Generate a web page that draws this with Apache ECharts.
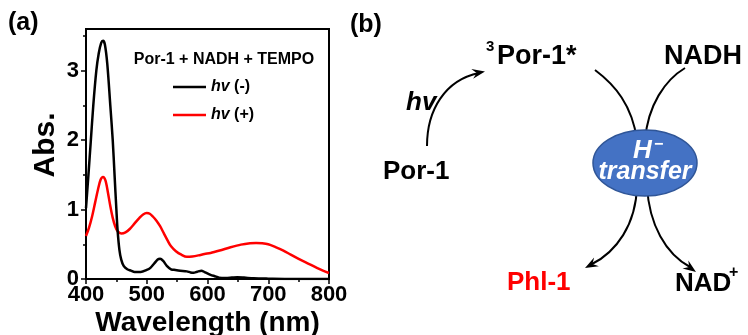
<!DOCTYPE html>
<html>
<head>
<meta charset="utf-8">
<script src="https://cdn.jsdelivr.net/npm/echarts@6/dist/echarts.min.js"></script>
<style>
  html, body { margin: 0; padding: 0; background: #fff; }
  #chart { width: 748px; height: 335px; }
</style>
</head>
<body>
<div id="chart"></div>
<script>
// Panel (a): UV-vis spectra of Por-1 + NADH + TEMPO, with and without light
const wlDark = [400, 404, 408, 412, 417, 421, 425, 428, 431, 435, 440, 444, 447, 450, 452, 455, 458, 462, 468,
  474, 480, 490, 500, 506, 512, 518, 522, 527, 533, 540, 547, 555, 566, 572, 577, 583, 590, 595, 605, 612,
  619, 630, 640, 649, 660, 676, 700, 740, 800];
const absDark = [1.02, 1.5, 2.0, 2.5, 3.0, 3.25, 3.4, 3.43, 3.38, 3.1, 2.5, 2.0, 1.5, 1.0, 0.7, 0.42, 0.28, 0.19, 0.14,
  0.12, 0.1, 0.1, 0.13, 0.16, 0.22, 0.28, 0.29, 0.26, 0.19, 0.14, 0.13, 0.12, 0.11, 0.095, 0.09, 0.105, 0.12, 0.1, 0.06, 0.04,
  0.02, 0.015, 0.02, 0.025, 0.02, 0.01, 0.005, 0, 0];

const wlLight = [400, 405, 410, 415, 420, 424, 428, 432, 436, 440, 444, 448, 452, 458, 465, 472, 480, 488, 494,
  500, 505, 510, 516, 522, 528, 534, 540, 548, 557, 566, 575, 585, 595, 605, 620, 638, 655, 670, 680, 690,
  700, 712, 725, 737, 750, 764, 780, 790, 800];
const absLight = [0.62, 0.74, 0.9, 1.1, 1.3, 1.43, 1.47, 1.42, 1.25, 1.05, 0.88, 0.76, 0.69, 0.655, 0.67, 0.72, 0.8, 0.88, 0.93,
  0.95, 0.94, 0.9, 0.84, 0.76, 0.66, 0.56, 0.47, 0.4, 0.35, 0.32, 0.325, 0.34, 0.36, 0.375, 0.41, 0.457, 0.495, 0.515, 0.52, 0.515,
  0.5, 0.46, 0.41, 0.35, 0.29, 0.23, 0.16, 0.12, 0.087];

const seriesNames = ['hv (-)', 'hv (+)'];
const seriesColors = ['#000000', '#ff0000'];
const xTicks = [400, 500, 600, 700, 800];
const yTicks = [0, 1, 2, 3];

const FONT = '"Liberation Sans", Arial, sans-serif';

const pair = (xs, ys) => xs.map((x, i) => [x, ys[i]]);

// arrowhead polygon pointing from "from" towards "tip"
function arrowHead(tip, from, len, half) {
  const dx = tip[0] - from[0], dy = tip[1] - from[1];
  const n = Math.hypot(dx, dy);
  const ux = dx / n, uy = dy / n;
  const px = -uy, py = ux;
  return {
    type: 'polygon',
    shape: {
      points: [
        tip,
        [tip[0] - ux * len + px * half, tip[1] - uy * len + py * half],
        [tip[0] - ux * len * 0.65, tip[1] - uy * len * 0.65],
        [tip[0] - ux * len - px * half, tip[1] - uy * len - py * half]
      ]
    },
    style: { fill: '#000' },
    z: 10
  };
}

function curve(x1, y1, cx1, cy1, cx2, cy2, x2, y2) {
  return {
    type: 'bezierCurve',
    shape: { x1, y1, cpx1: cx1, cpy1: cy1, cpx2: cx2, cpy2: cy2, x2, y2 },
    style: { stroke: '#000', lineWidth: 2, fill: null },
    z: 5
  };
}

function label(text, x, y, size, opts) {
  return {
    type: 'text',
    x, y,
    style: Object.assign({
      text,
      font: 'bold ' + size + 'px ' + FONT,
      fill: '#000',
      textAlign: 'left',
      textVerticalAlign: 'middle'
    }, opts || {}),
    z: 20
  };
}

const graphics = [
  label('(a)', 8, 23, 25),
  label('Por-1 + NADH + TEMPO', 224, 60, 16, { textAlign: 'center' }),
  label('(b)', 350, 25, 25),

  // hv excitation arrow
  curve(427, 146, 427, 110, 445, 80, 479, 73),
  arrowHead([485, 71.5], [466, 75], 13, 5),
  label('hv', 406, 103, 26, { font: 'italic bold 26px ' + FONT }),
  label('Por-1', 383, 172, 26),
  label('3', 486, 47, 15),
  label('Por-1*', 497, 57, 27),
  label('NADH', 664, 57, 27),

  // crossing curves through the H- transfer step
  curve(595, 70, 615, 85, 632, 105, 637, 140),
  curve(685, 68, 665, 80, 648, 105, 645, 140),
  curve(637, 186, 636, 225, 616, 252, 592, 264),
  arrowHead([585, 268], [600, 260], 13, 5),
  curve(647, 186, 649, 225, 666, 254, 690, 267),
  arrowHead([696, 272], [682, 262], 13, 5),
  {
    type: 'ellipse',
    shape: { cx: 645, cy: 163, rx: 52, ry: 33 },
    style: { fill: '#4472c4', stroke: '#2f5597', lineWidth: 1.5 },
    z: 12
  },
  label('H', 633, 151, 26, { font: 'italic bold 26px ' + FONT, fill: '#fff' }),
  label('\u2212', 654, 145, 16, { fill: '#fff' }),
  label('transfer', 645, 172, 25, { font: 'italic bold 25px ' + FONT, fill: '#fff', textAlign: 'center' }),
  label('Phl-1', 507, 283, 26, { fill: '#ff0000' }),
  label('NAD', 675, 284, 26),
  label('+', 729, 273, 16)
];

const chart = echarts.init(document.getElementById('chart'), null, { renderer: 'canvas' });

const option = {
  animation: false,
  backgroundColor: '#fff',
  textStyle: { fontFamily: FONT },
  grid: {
    left: 86, right: 419, top: 29, bottom: 56,
    outerBoundsMode: 'none',
    containLabel: false,
    show: true, borderColor: '#000', borderWidth: 2, backgroundColor: 'transparent'
  },
  legend: {
    left: 173, top: 79,
    padding: 0,
    orient: 'vertical',
    icon: 'rect',
    itemWidth: 33, itemHeight: 2.5, itemGap: 12,
    data: seriesNames,
    formatter: name => '{i|hv} ' + name.slice(3),
    textStyle: {
      fontFamily: FONT, fontWeight: 'bold', fontSize: 16, color: '#000',
      rich: { i: { fontFamily: FONT, fontWeight: 'bold', fontStyle: 'italic', fontSize: 16, color: '#000' } }
    }
  },
  xAxis: {
    type: 'value',
    min: 400, max: 800, interval: 100,
    name: 'Wavelength (nm)',
    nameLocation: 'middle',
    nameGap: 30,
    nameMoveOverlap: false,
    nameTextStyle: { fontFamily: FONT, fontWeight: 'bold', fontSize: 28, color: '#000' },
    axisLine: { lineStyle: { color: '#000', width: 2 } },
    axisTick: { length: 5, lineStyle: { width: 1.5 }, customValues: xTicks },
    minorTick: { show: true, splitNumber: 2, length: 3, lineStyle: { color: '#000', width: 1.5 } },
    splitLine: { show: false },
    axisLabel: { customValues: xTicks, margin: 5, fontFamily: FONT, fontWeight: 'bold', fontSize: 22, color: '#000' }
  },
  yAxis: {
    type: 'value',
    min: 0, max: 3.6, interval: 1,
    name: 'Abs.',
    nameLocation: 'middle',
    nameGap: 25,
    nameMoveOverlap: false,
    nameTextStyle: { fontFamily: FONT, fontWeight: 'bold', fontSize: 30, color: '#000', padding: [0, 0, 0, 18] },
    axisLine: { lineStyle: { color: '#000', width: 2 } },
    axisTick: { length: 5, lineStyle: { width: 1.5 }, customValues: yTicks },
    minorTick: { show: true, splitNumber: 2, length: 3, lineStyle: { color: '#000', width: 1.5 } },
    splitLine: { show: false },
    axisLabel: { customValues: yTicks, margin: 7, fontFamily: FONT, fontWeight: 'bold', fontSize: 22, color: '#000' }
  },
  series: [
    {
      name: seriesNames[0], type: 'line', data: pair(wlDark, absDark),
      symbol: 'none', smooth: 0.3, color: seriesColors[0],
      lineStyle: { color: seriesColors[0], width: 2.5 }, z: 3
    },
    {
      name: seriesNames[1], type: 'line', data: pair(wlLight, absLight),
      symbol: 'none', smooth: 0.3, color: seriesColors[1],
      lineStyle: { color: seriesColors[1], width: 2.5 }, z: 2
    }
  ],
  graphic: graphics
};

chart.setOption(option);
</script>
</body>
</html>
